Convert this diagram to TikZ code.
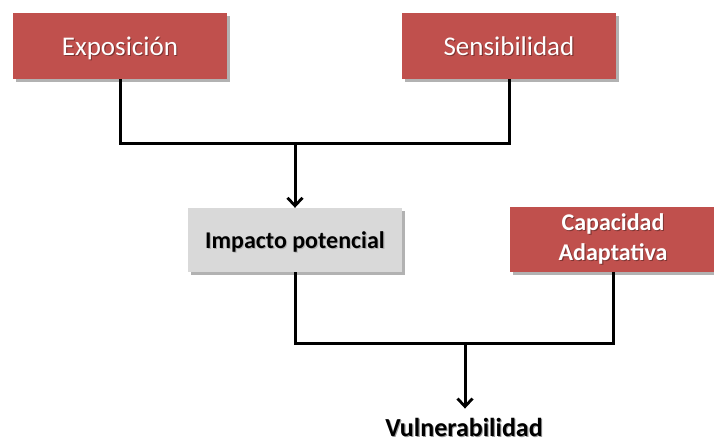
\documentclass[tikz,border=0pt]{standalone}
\usepackage{fontspec}
\setmainfont{Carlito}
\usetikzlibrary{shadows,arrows.meta}
\definecolor{boxred}{HTML}{C0504D}
\definecolor{boxgray}{HTML}{D9D9D9}
\definecolor{redshadow}{HTML}{7E3432}
\newcommand\shtxt[2]{\leavevmode\rlap{\hspace{1.1pt}\raisebox{-1.1pt}{\textcolor{#1}{#2}}}#2}
\begin{document}
\begin{tikzpicture}[x=1pt,y=-1pt,
  boxshadow/.style={drop shadow={shadow xshift=2.5pt,shadow yshift=-3pt,opacity=0.3,fill=black}},
  redbox/.style={rectangle,fill=boxred,text=white,inner sep=0pt,align=center,boxshadow},
  graybox/.style={rectangle,fill=boxgray,text=black,inner sep=0pt,align=center,boxshadow},
  bigfont/.style={font=\fontsize{27}{32}\selectfont},
  boldfont/.style={font=\fontsize{24}{30}\selectfont\bfseries},
  conn/.style={line width=3pt,black},
  arr/.style={conn,-{Straight Barb[length=8pt,width=15pt,line width=2.8pt]}}
]
\useasboundingbox (0,0) rectangle (714,445);
\node[redbox,bigfont,minimum width=214pt,minimum height=66pt,text height=18pt,text depth=0pt] (expo) at (120,46) {\shtxt{redshadow}{Exposición}};
\node[redbox,bigfont,minimum width=214pt,minimum height=66pt,text height=18pt,text depth=0pt] (sens) at (509,46) {\shtxt{redshadow}{Sensibilidad}};
\node[graybox,boldfont,minimum width=214pt,minimum height=64pt,text height=16pt,text depth=0pt] (imp) at (295,240) {\shtxt{black!30}{Impacto potencial}};
\node[redbox,boldfont,minimum width=206pt,minimum height=65pt] (cap) at (613,239.5) {\shtxt{redshadow}{Capacidad}\\\shtxt{redshadow}{Adaptativa}};
\node[inner sep=0pt,anchor=base,font=\fontsize{26}{30}\selectfont\bfseries] (vul) at (464,436) {\shtxt{black!40}{Vulnerabilidad}};
\coordinate (j1) at (295,143);
\coordinate (j2) at (465,343);
\draw[conn] (expo.south) |- (j1) -| (sens.south);
\draw[arr] (j1) -- (imp.north);
\draw[conn] (imp.south) |- (j2) -| (cap.south);
\draw[arr,shorten >=9pt] (j2) -- (vul.north -| j2);
\end{tikzpicture}
\end{document}
